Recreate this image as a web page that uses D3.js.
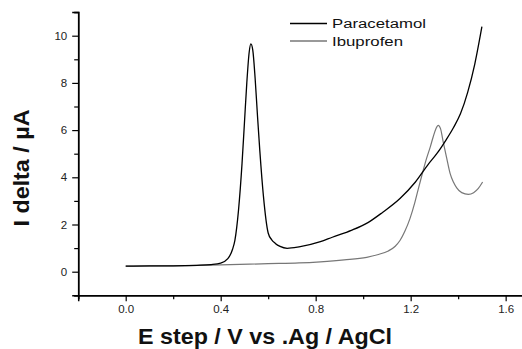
<!DOCTYPE html>
<html>
<head>
<meta charset="utf-8">
<script src="https://cdn.jsdelivr.net/npm/d3@7"></script>
<style>
  html, body { margin: 0; padding: 0; background: #fff; }
  svg { display: block; }
  text { font-family: "Liberation Sans", Arial, sans-serif; }
</style>
</head>
<body>
<svg id="chart" width="522" height="349"></svg>
<script>
// ---- Data ----
const seriesNames = ["Paracetamol", "Ibuprofen"];
const seriesColors = ["#000000", "#777777"];

const paracetamolE = [0.00, 0.10, 0.20, 0.30, 0.36, 0.40, 0.43, 0.45, 0.46, 0.475, 0.49, 0.50, 0.51, 0.52, 0.527, 0.535, 0.545, 0.555, 0.565, 0.58, 0.60, 0.615, 0.63, 0.65, 0.68, 0.73, 0.82, 0.87, 0.95, 1.02, 1.08, 1.155, 1.22, 1.274, 1.31, 1.35, 1.38, 1.41, 1.44, 1.47, 1.50];
const paracetamolI = [0.24, 0.25, 0.25, 0.27, 0.30, 0.36, 0.55, 0.95, 1.34, 2.6, 4.6, 6.3, 8.0, 9.3, 9.65, 9.4, 8.2, 6.6, 5.1, 3.2, 1.64, 1.35, 1.2, 1.07, 0.99, 1.05, 1.27, 1.46, 1.75, 2.08, 2.5, 3.1, 3.8, 4.55, 5.0, 5.6, 6.1, 6.7, 7.6, 8.8, 10.38];

const ibuprofenE = [0.00, 0.20, 0.40, 0.60, 0.73, 0.82, 0.92, 1.015, 1.06, 1.106, 1.135, 1.155, 1.175, 1.197, 1.218, 1.232, 1.253, 1.267, 1.283, 1.295, 1.306, 1.316, 1.326, 1.337, 1.352, 1.366, 1.38, 1.394, 1.415, 1.443, 1.465, 1.485, 1.503];
const ibuprofenI = [0.24, 0.25, 0.29, 0.34, 0.37, 0.42, 0.50, 0.61, 0.72, 0.88, 1.08, 1.32, 1.7, 2.25, 2.95, 3.5, 4.3, 4.8, 5.3, 5.72, 6.05, 6.2, 6.05, 5.5, 4.8, 4.17, 3.8, 3.55, 3.35, 3.28, 3.35, 3.53, 3.8];

const xMajorTicks = [0.0, 0.4, 0.8, 1.2, 1.6];
const xMinorTicks = [-0.2, 0.2, 0.6, 1.0, 1.4];
const yMajorTicks = [0, 2, 4, 6, 8, 10];
const yMinorTicks = [-1, 1, 3, 5, 7, 9, 11];

const xTitle = "E step / V vs .Ag / AgCl";
const yTitle = "I delta / µA";

// ---- Layout ----
const svg = d3.select("#chart");
const x = d3.scaleLinear().domain([-0.2, 1.7]).range([78.2, 529.4]);
const y = d3.scaleLinear().domain([-1, 11]).range([295.3, 12.1]);

// axes
const xAxisMajor = d3.axisBottom(x).tickValues(xMajorTicks).tickFormat(d3.format(".1f")).tickSize(6).tickPadding(4);
const xAxisMinor = d3.axisBottom(x).tickValues(xMinorTicks).tickFormat("").tickSize(4);
const yAxisMajor = d3.axisLeft(y).tickValues(yMajorTicks).tickFormat(d3.format("d")).tickSize(6).tickPadding(5);
const yAxisMinor = d3.axisLeft(y).tickValues(yMinorTicks).tickFormat("").tickSize(4);

function styleAxis(g) {
  g.select(".domain").attr("stroke", "#000").attr("stroke-width", 1.5);
  g.selectAll(".tick line").attr("stroke", "#000").attr("stroke-width", 1.2);
  g.selectAll(".tick text").attr("fill", "#222").style("font-size", "11.5px").style("font-family", "'Liberation Sans', Arial, sans-serif");
}

svg.append("g").attr("transform", `translate(0,${y(-1)})`).call(xAxisMinor).call(styleAxis);
svg.append("g").attr("transform", `translate(0,${y(-1)})`).call(xAxisMajor).call(styleAxis);
svg.append("g").attr("transform", `translate(${x(-0.2)},0)`).call(yAxisMinor).call(styleAxis);
svg.append("g").attr("transform", `translate(${x(-0.2)},0)`).call(yAxisMajor).call(styleAxis);

// lines
const line = d3.line().x(d => x(d[0])).y(d => y(d[1])).curve(d3.curveMonotoneX);
const pData = paracetamolE.map((e, i) => [e, paracetamolI[i]]);
const iData = ibuprofenE.map((e, i) => [e, ibuprofenI[i]]);

svg.append("path").datum(iData).attr("d", line).attr("fill", "none")
  .attr("stroke", seriesColors[1]).attr("stroke-width", 1.2);
svg.append("path").datum(pData).attr("d", line).attr("fill", "none")
  .attr("stroke", seriesColors[0]).attr("stroke-width", 1.3);

// legend
const legendLens = [94, 71];
seriesNames.forEach((name, i) => {
  const ly = 23.5 + i * 17.5;
  svg.append("line").attr("x1", 290).attr("x2", 327).attr("y1", ly).attr("y2", ly)
    .attr("stroke", seriesColors[i]).attr("stroke-width", 1.3);
  svg.append("text").attr("x", 332).attr("y", ly + 4.8).text(name)
    .style("font-size", "12.5px").attr("fill", "#111")
    .attr("textLength", legendLens[i]).attr("lengthAdjust", "spacingAndGlyphs");
});

// titles
svg.append("text").attr("x", 265).attr("y", 343.5).attr("text-anchor", "middle")
  .style("font-size", "22px").style("font-weight", "bold").attr("fill", "#111")
  .attr("textLength", 254).attr("lengthAdjust", "spacingAndGlyphs")
  .text(xTitle);

svg.append("text").attr("transform", "translate(28.5,168) rotate(-90)")
  .attr("text-anchor", "middle")
  .style("font-size", "22px").style("font-weight", "bold").attr("fill", "#111")
  .attr("textLength", 117).attr("lengthAdjust", "spacingAndGlyphs")
  .text(yTitle);
</script>
</body>
</html>
